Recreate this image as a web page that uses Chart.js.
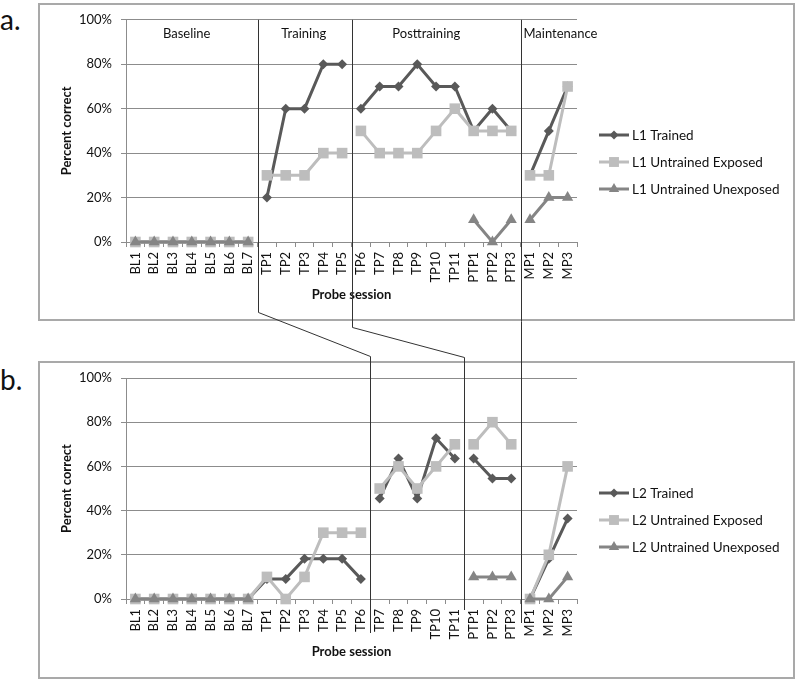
<!DOCTYPE html>
<html>
<head>
<meta charset="utf-8">
<script src="https://cdn.jsdelivr.net/npm/chart.js@4.4.0/dist/chart.umd.min.js"></script>
<style>
	body { margin: 0; background: #fff; }
	#page { position: relative; width: 798px; height: 683px; overflow: hidden; font-family: Lato, "Open Sans", sans-serif; }
	.box { position: absolute; left: 38px; width: 757px; height: 318px; box-sizing: border-box; border: 2px solid #a9a9a9; }
	.panel { position: absolute; left: 38px; }
	.tag { position: absolute; left: 0px; font-size: 28px; line-height: 28px; color: #111; }
	#overlay { position: absolute; left: 0; top: 0; pointer-events: none; }
</style>
</head>
<body>
<div id="page">
	<div class="box" style="top:3px"></div>
	<div class="box" style="top:361px"></div>
	<canvas id="chartA" class="panel" style="top:3px" width="757" height="318"></canvas>
	<canvas id="chartB" class="panel" style="top:361px" width="757" height="318"></canvas>
	<div class="tag" style="top:5px">a.</div>
	<div class="tag" style="top:365px">b.</div>
	<canvas id="overlay" width="798" height="683"></canvas>
</div>
<script>
var sessions = ['BL1', 'BL2', 'BL3', 'BL4', 'BL5', 'BL6', 'BL7',
	'TP1', 'TP2', 'TP3', 'TP4', 'TP5', 'TP6', 'TP7', 'TP8', 'TP9', 'TP10', 'TP11',
	'PTP1', 'PTP2', 'PTP3', 'MP1', 'MP2', 'MP3'];
var yTicks = [0, 20, 40, 60, 80, 100];

// a. L1
var l1Names = ['L1 Trained', 'L1 Untrained Exposed', 'L1 Untrained Unexposed'];
var l1Trained = [0, 0, 0, 0, 0, 0, 0, 20, 60, 60, 80, 80, 60, 70, 70, 80, 70, 70, 50, 60, 50, 30, 50, 70];
var l1Exposed = [0, 0, 0, 0, 0, 0, 0, 30, 30, 30, 40, 40, 50, 40, 40, 40, 50, 60, 50, 50, 50, 30, 30, 70];
var l1Unexposed = [0, 0, 0, 0, 0, 0, 0, null, null, null, null, null, null, null, null, null, null, null, 10, 0, 10, 10, 20, 20];
var l1Breaks = [7, 12, 21]; // first session of a new phase
var l1Phases = ['Baseline', 'Training', 'Posttraining', 'Maintenance'];

// b. L2
var l2Names = ['L2 Trained', 'L2 Untrained Exposed', 'L2 Untrained Unexposed'];
var l2Trained = [0, 0, 0, 0, 0, 0, 0, 9.1, 9.1, 18.2, 18.2, 18.2, 9.1, 45.5, 63.6, 45.5, 72.7, 63.6, 63.6, 54.5, 54.5, 0, 18.2, 36.4];
var l2Exposed = [0, 0, 0, 0, 0, 0, 0, 10, 0, 10, 30, 30, 30, 50, 60, 50, 60, 70, 70, 80, 70, 0, 20, 60];
var l2Unexposed = [0, 0, 0, 0, 0, 0, 0, null, null, null, null, null, null, null, null, null, null, null, 10, 10, 10, 0, 0, 10];
var l2Breaks = [13, 18, 21];

var seriesColors = ['#595959', '#bdbdbd', '#858585'];
var seriesMarkers = ['rectRot', 'rect', 'triangle'];
var markerSizes = [5, 7.5, 6.5];
var gridColor = '#8c8c8c';

Chart.defaults.font.family = "Lato, 'Open Sans', sans-serif";
Chart.defaults.font.size = 13;
Chart.defaults.color = '#1a1a1a';

// legend on the right: line with marker, like the spreadsheet one
var sideLegend = {
	id: 'sideLegend',
	afterDraw: function (chart) {
		var ctx = chart.ctx;
		var x0 = chart.chartArea.right + 22;
		var mid = chart.height / 2;
		ctx.save();
		ctx.font = "13.5px Lato, 'Open Sans', sans-serif";
		ctx.textBaseline = 'middle';
		chart.data.datasets.forEach(function (ds, i) {
			var y = mid + (i - 1) * 27;
			ctx.strokeStyle = ds.borderColor;
			ctx.lineWidth = 3;
			ctx.beginPath();
			ctx.moveTo(x0, y);
			ctx.lineTo(x0 + 30, y);
			ctx.stroke();
			ctx.fillStyle = ds.borderColor;
			Chart.helpers.drawPoint(ctx, { pointStyle: ds.pointStyle, radius: ds.pointRadius - 0.5, borderWidth: 0, rotation: 0 }, x0 + 15, y);
			ctx.fillStyle = '#111';
			ctx.fillText(ds.label, x0 + 33, y + 1);
		});
		ctx.restore();
	}
};

// phase names written across the top of the plot
var phaseTitles = {
	id: 'phaseTitles',
	afterDraw: function (chart, args, opts) {
		if (!opts.names) return;
		var ctx = chart.ctx;
		var xs = chart.scales.x;
		ctx.save();
		ctx.font = "13px Lato, 'Open Sans', sans-serif";
		ctx.fillStyle = '#111';
		ctx.textAlign = 'center';
		ctx.textBaseline = 'middle';
		opts.names.forEach(function (name, i) {
			ctx.fillText(name, xs.getPixelForValue(opts.at[i]), chart.chartArea.top + 14);
		});
		ctx.restore();
	}
};

function buildPanel(canvasId, names, values, breaks, padTop, padBottom, phases) {
	var datasets = values.map(function (v, i) {
		return {
			label: names[i],
			data: v,
			borderColor: seriesColors[i],
			backgroundColor: seriesColors[i],
			pointBackgroundColor: seriesColors[i],
			pointBorderColor: seriesColors[i],
			pointBorderWidth: 0,
			pointStyle: seriesMarkers[i],
			pointRadius: markerSizes[i],
			borderWidth: 3,
			spanGaps: false,
			clip: false,
			order: 3 - i,
			segment: {
				borderColor: function (c) {
					return breaks.indexOf(c.p1DataIndex) >= 0 ? 'rgba(0,0,0,0)' : undefined;
				}
			}
		};
	});

	return new Chart(document.getElementById(canvasId), {
		type: 'line',
		data: { labels: sessions, datasets: datasets },
		plugins: [sideLegend, phaseTitles],
		options: {
			responsive: false,
			animation: false,
			layout: { padding: { left: 17, top: padTop, right: 218, bottom: padBottom } },
			plugins: {
				legend: { display: false },
				tooltip: { enabled: false },
				phaseTitles: phases || {}
			},
			scales: {
				x: {
					offset: true,
					grid: { offset: true, drawOnChartArea: false, drawTicks: true, tickLength: 5, color: gridColor },
					border: { color: gridColor },
					ticks: { autoSkip: false, minRotation: 90, maxRotation: 90, padding: 5, color: '#111' },
					title: { display: true, text: 'Probe session', font: { weight: 'bold', size: 13 }, color: '#111' },
					afterFit: function (s) { s.height = 65; }
				},
				y: {
					min: 0,
					max: 100,
					grid: { color: gridColor, tickLength: 5 },
					border: { color: gridColor },
					ticks: { padding: 9, color: '#111', callback: function (v) { return v + '%'; } },
					afterBuildTicks: function (s) { s.ticks = yTicks.map(function (v) { return { value: v }; }); },
					title: { display: true, text: 'Percent correct', font: { weight: 'bold', size: 13 }, color: '#111' },
					afterFit: function (s) { s.width = 71; }
				}
			}
		}
	});
}

var chartA = buildPanel('chartA', l1Names, [l1Trained, l1Exposed, l1Unexposed], l1Breaks, 16, 14,
	{ names: l1Phases, at: [2.73, 8.96, 15.48, 22.62] });
var chartB = buildPanel('chartB', l2Names, [l2Trained, l2Exposed, l2Unexposed], l2Breaks, 17, 15, null);

// phase boundaries of a. carried down to the matching ones of b.
function drawConnectors() {
	var ctx = document.getElementById('overlay').getContext('2d');
	var topA = 3 + chartA.chartArea.top;
	var bends = [
		{ kneeA: 312.5, kneeB: 356.5, end: 633 },
		{ kneeA: 327.5, kneeB: 357.5, end: 610 },
		{ kneeA: null, kneeB: null, end: 623 }
	];
	ctx.strokeStyle = '#333';
	ctx.lineWidth = 1;
	bends.forEach(function (b, i) {
		var xa = Math.round(38 + chartA.scales.x.getPixelForValue(l1Breaks[i] - 0.5)) + 0.5;
		var xb = Math.round(38 + chartB.scales.x.getPixelForValue(l2Breaks[i] - 0.5)) + 0.5;
		ctx.beginPath();
		ctx.moveTo(xa, topA);
		if (b.kneeA !== null) {
			ctx.lineTo(xa, b.kneeA);
			ctx.lineTo(xb, b.kneeB);
		}
		ctx.lineTo(xb, b.end);
		ctx.stroke();
	});
}
drawConnectors();
</script>
</body>
</html>
